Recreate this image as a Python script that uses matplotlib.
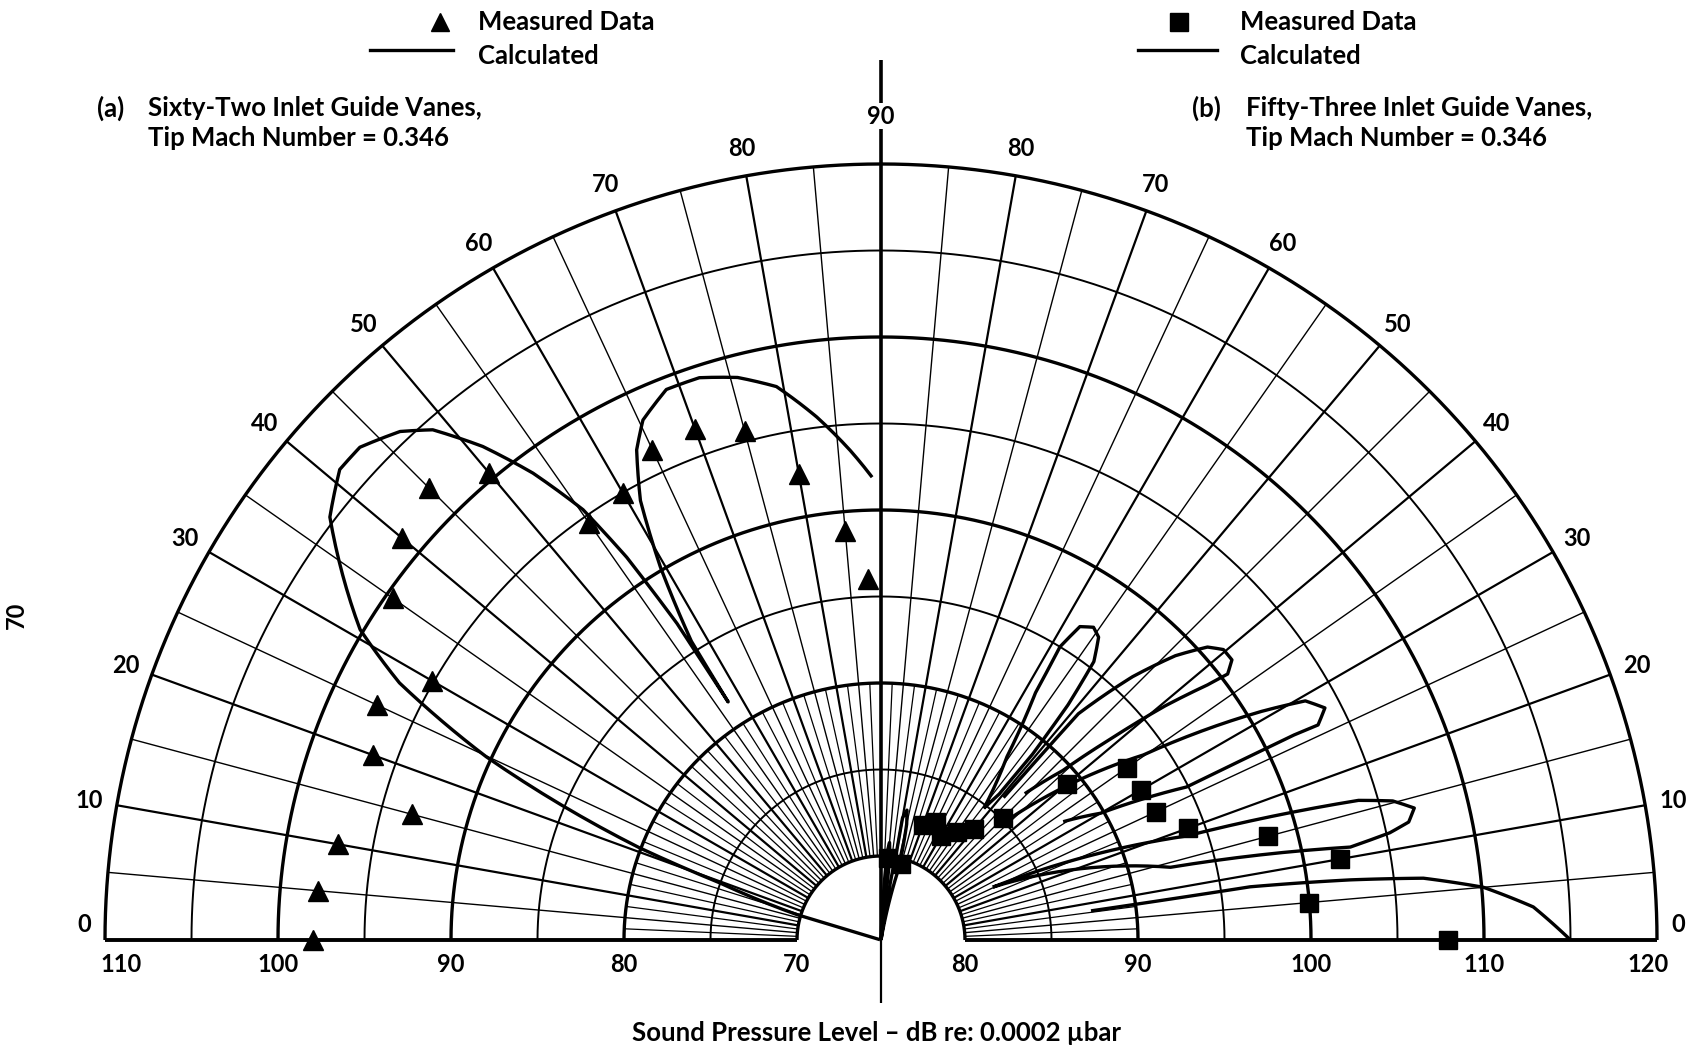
import numpy as np
import matplotlib
matplotlib.use('Agg')
import matplotlib.pyplot as plt
from matplotlib.lines import Line2D

plt.rcParams['font.family'] = ['Lato', 'DejaVu Sans']
plt.rcParams['font.size'] = 17
plt.rcParams['font.weight'] = 'bold'

W, H = 1691, 1048

# (a) sixty-two inlet guide vanes, left quadrant: angle (deg), SPL (dB)
a_meas_deg = [0, 5, 10, 15, 20, 25, 30, 35, 40, 45, 50, 55, 60, 65, 70, 75, 80, 85, 88]
a_meas_db = [98.0, 97.8, 97.0, 93.2, 96.4, 97.3, 95.1, 99.6, 101.3, 102.1, 100.4,
             94.6, 95.0, 96.4, 96.6, 95.6, 92.5, 88.9, 86.0]
a_calc_deg = [16.8, 16.8, 19.5, 20.9, 24.9, 28.1, 30.8, 37.5, 41.0, 43.4, 46.6, 48.7,
              51.1, 53.3, 55.3, 56.4, 57.2, 57.3, 57.6, 59.4, 61.3, 63.5, 65.4, 68.7,
              72.1, 75.7, 79.3, 83.0, 86.4, 88.9]
a_calc_db = [65.2, 70.2, 75.0, 80.1, 90.3, 96.7, 100.2, 105.3, 106.6, 106.6, 105.6, 104.4,
             101.8, 98.8, 95.4, 91.7, 86.9, 81.5, 85.6, 90.2, 94.1, 96.8, 98.2, 99.3,
             99.3, 98.7, 97.7, 95.6, 93.5, 91.9]

# (b) fifty-three inlet guide vanes, right quadrant
b_meas_deg = [0, 5, 10, 15, 20, 25, 30, 35, 40, 45, 50, 55, 60, 65, 70, 75, 85]
b_meas_db = [107.9, 100.0, 102.1, 98.3, 94.0, 92.7, 92.5, 92.5, 89.2, 85.1, 83.5,
             82.8, 82.1, 82.7, 82.2, 79.7, 79.9]
# calculated pattern, one list per lobe
b_lobe1_deg = [7.9, 8.2, 7.3, 6.5, 5.0, 2.9, 0.0]
b_lobe1_db = [87.4, 96.7, 102.5, 106.7, 110.1, 112.9, 115.0]
b_lobe2_deg = [25.3, 18.8, 16.3, 15.2, 13.9, 12.6, 11.9, 11.2, 14.1, 25.3]
b_lobe2_db = [82.3, 93.8, 103.9, 105.8, 106.9, 106.4, 105.2, 102.8, 92.4, 82.3]
b_lobe3_deg = [43.4, 35.2, 31.0, 29.4, 27.6, 26.2, 26.4, 26.6, 30.0, 33.0]
b_lobe3_db = [85.3, 93.7, 100.8, 103.3, 104.1, 103.3, 101.8, 94.9, 89.8, 87.7]
b_lobe4_deg = [49.3, 48.9, 46.3, 44.0, 41.9, 40.3, 38.6, 37.5, 38.0, 39.5, 41.2, 43.0, 45.5]
b_lobe4_db = [86.0, 92.5, 96.2, 98.8, 100.5, 101.1, 101.1, 100.4, 99.1, 96.4, 92.8, 89.5, 87.0]
b_lobe5_deg = [52.0, 55.5, 58.0, 58.6, 57.6, 55.8, 54.3, 52.6, 51.5, 50.8, 51.0, 52.0]
b_lobe5_db = [84.8, 88.0, 92.0, 95.0, 96.6, 97.0, 96.7, 95.4, 92.5, 89.0, 86.0, 84.8]
b_lobe6_deg = [80.0, 76.0, 77.5, 78.7, 80.0, 80.0, 82.0]
b_lobe6_db = [75.15, 79.5, 82.0, 82.8, 82.3, 80.5, 75.15]
b_lobe7_deg = [88.0, 86.0, 85.0, 84.0, 83.0]
b_lobe7_db = [75.15, 80.2, 80.8, 80.0, 75.15]

PX = 17.3                 # pixels per dB
CX, CY = 881, 940         # pole position in pixels
R_IN = 84 / PX            # radius of the blank centre
R_OUT = 110 - 70 + R_IN


def r_left(v):
    return np.asarray(v, float) - 70 + R_IN


def r_right(v):
    return np.asarray(v, float) - 80 + R_IN


def polar_xy(theta, r, steps=16):
    # segments are followed in (theta, r) like a polar projection does
    t = np.atleast_1d(np.asarray(theta, float))
    r = np.atleast_1d(np.asarray(r, float))
    if len(t) > 1:
        s = np.linspace(0, len(t) - 1, (len(t) - 1) * steps + 1)
        i = np.arange(len(t))
        t, r = np.interp(s, i, t), np.interp(s, i, r)
    a = np.radians(t)
    return r * np.cos(a), r * np.sin(a)


def left(deg, db):
    return polar_xy(180 - np.asarray(deg, float), r_left(db))


def right(deg, db):
    return polar_xy(deg, r_right(db))


fig = plt.figure(figsize=(W / 100, H / 100), dpi=100)
fig.patch.set_facecolor('white')
ax = fig.add_axes([0, 0, 1, 1])
ax.set_xlim(-CX / PX, (W - CX) / PX)
ax.set_ylim(-(H - CY) / PX, CY / PX)
ax.set_axis_off()

k = dict(color='black', solid_capstyle='butt')

# rings every 5 dB
for v in range(70, 111, 5):
    lw = 2.4 if v % 10 == 0 else 1.4
    x, y = polar_xy(np.linspace(0, 180, 721), np.full(721, r_left(v)), steps=1)
    ax.plot(x, y, lw=lw, **k)

# radial lines
for a in range(5, 90, 5):
    lw = 1.6 if a % 10 == 0 else 1.0
    for t in (a, 180 - a):
        ax.plot(*polar_xy([t, t], [R_IN, R_OUT], steps=1), lw=lw, **k)
for a in np.arange(2.5, 90, 5):
    for t in (a, 180 - a):
        ax.plot(*polar_xy([t, t], [R_IN, r_left(80)], steps=1), lw=0.9, **k)
ax.plot([R_IN, R_OUT], [0, 0], lw=2.8, **k)
ax.plot([-R_OUT, -R_IN], [0, 0], lw=2.8, **k)
ax.plot([0, 0], [0, 880 / PX], lw=2.6, **k)
ax.plot([0, 0], [-63 / PX, 0], lw=1.6, **k)

# calculated curves
ax.plot(*left(a_calc_deg, a_calc_db), lw=2.4, **k)
for d, v in [(b_lobe1_deg, b_lobe1_db), (b_lobe2_deg, b_lobe2_db), (b_lobe3_deg, b_lobe3_db),
             (b_lobe4_deg, b_lobe4_db), (b_lobe5_deg, b_lobe5_db), (b_lobe6_deg, b_lobe6_db),
             (b_lobe7_deg, b_lobe7_db)]:
    ax.plot(*right(d, v), lw=2.4, solid_joinstyle='round', **k)

# measured points
x, y = polar_xy(180 - np.asarray(a_meas_deg, float), r_left(a_meas_db), steps=1)
ax.plot(x, y, ls='none', marker='^', ms=14, color='black')
x, y = polar_xy(b_meas_deg, r_right(b_meas_db), steps=1)
ax.plot(x, y, ls='none', marker='s', ms=13, color='black')

# angle labels round the rim
for a in range(0, 90, 10):
    aa, rl = (1.1, 797 / PX) if a == 0 else (a, 804 / PX)
    for t in (aa, 180 - aa):
        x, y = polar_xy(t, rl)
        ax.text(x[0], y[0], str(a), ha='center', va='center')
ax.text(0, 824 / PX, '90', ha='center', va='center',
        bbox=dict(facecolor='white', edgecolor='none', pad=1))

# dB scales along the baseline
ylab = -25 / PX
for v in (110, 100, 90, 80, 70):
    dx = 16 / PX if v == 110 else 0
    ax.text(-r_left(v) + dx, ylab, str(v), ha='center', va='center')
for v in (80, 90, 100, 110, 120):
    dx = -9 / PX if v == 120 else 0
    ax.text(r_right(v) + dx, ylab, str(v), ha='center', va='center')


def fx(x):
    return x / W


def fy(y):
    return 1 - y / H


CAP = 18.5
fig.text(fx(876), fy(1033), 'Sound Pressure Level – dB re: 0.0002 µbar', ha='center',
         va='center', fontsize=CAP)
fig.text(fx(16), fy(615), '70', rotation=90, ha='center', va='center')

# panel captions
fig.text(fx(97), fy(108), '(a)', va='center', fontsize=CAP)
fig.text(fx(148), fy(108), 'Sixty-Two Inlet Guide Vanes,', va='center', fontsize=CAP)
fig.text(fx(148), fy(138), 'Tip Mach Number = 0.346', va='center', fontsize=CAP)
fig.text(fx(1192), fy(108), '(b)', va='center', fontsize=CAP)
fig.text(fx(1246), fy(108), 'Fifty-Three Inlet Guide Vanes,', va='center', fontsize=CAP)
fig.text(fx(1246), fy(138), 'Tip Mach Number = 0.346', va='center', fontsize=CAP)

# legends
for mx, mk, x0, x1, tx in [(440, '^', 370, 453, 478), (1179, 's', 1138, 1217, 1240)]:
    fig.add_artist(Line2D([fx(mx)], [fy(22)], marker=mk, ms=13, color='black', ls='none'))
    fig.add_artist(Line2D([fx(x0), fx(x1)], [fy(50)] * 2, lw=2.4, color='black'))
    fig.text(fx(tx), fy(22), 'Measured Data', va='center', fontsize=CAP)
    fig.text(fx(tx), fy(56), 'Calculated', va='center', fontsize=CAP)

fig.savefig('out.png', dpi=100, facecolor='white')
